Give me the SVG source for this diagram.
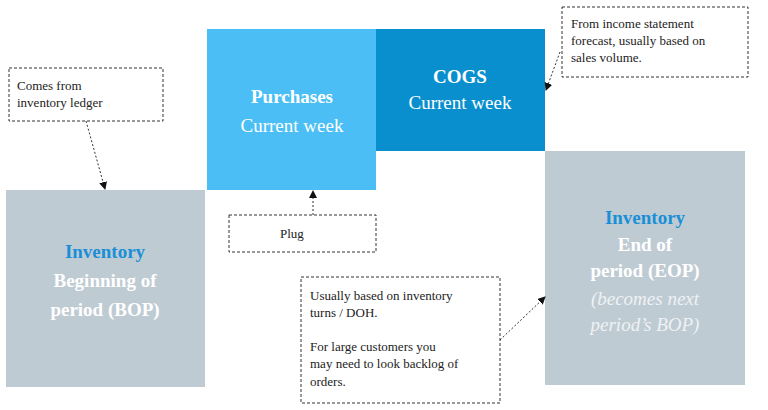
<svg xmlns="http://www.w3.org/2000/svg" width="768" height="410" viewBox="0 0 768 410">
<style>
.note{fill:#fff;stroke:#333;stroke-width:1;stroke-dasharray:3,2}
.nt{font-family:"Liberation Serif","DejaVu Serif",serif;font-size:13px;fill:#222}
.bt{font-family:"Liberation Serif","DejaVu Serif",serif;font-size:19px;font-weight:bold;fill:#fff;text-anchor:middle}
.rt{font-family:"Liberation Serif","DejaVu Serif",serif;font-size:19px;fill:#fff;text-anchor:middle}
.blue{fill:#1A8FD6}
.it{font-style:italic;font-weight:normal;fill:#eef2f5}
.con{stroke:#333;stroke-width:1;stroke-dasharray:2,2;fill:none;marker-end:url(#ah)}
</style>
<defs><marker id="ah" markerWidth="8" markerHeight="8" refX="7" refY="4" orient="auto" markerUnits="userSpaceOnUse"><path d="M0,0L8,4L0,8z" fill="#111"/></marker></defs>
<rect width="768" height="410" fill="#fff"/>
<g id="purchases"><rect x="207" y="29" width="169" height="161" fill="#4BBFF5"/>
<text class="bt" x="292" y="103">Purchases</text><text class="rt" x="292" y="132">Current week</text></g>
<g id="cogs"><rect x="376" y="29" width="169" height="122" fill="#0A8FCE"/>
<text class="bt" x="460" y="83">COGS</text><text class="rt" x="460" y="109">Current week</text></g>
<g id="bop"><rect x="6" y="190" width="199" height="197" fill="#BFCBD3"/>
<text class="bt blue" x="105" y="258">Inventory</text><text class="bt" x="105" y="287">Beginning of</text><text class="bt" x="105" y="316">period (BOP)</text></g>
<g id="eop"><rect x="545" y="151" width="200" height="234" fill="#BFCBD3"/>
<text class="bt blue" x="645" y="224">Inventory</text><text class="bt" x="645" y="251">End of</text><text class="bt" x="645" y="277">period (EOP)</text>
<text class="bt it" x="645" y="305">(becomes next</text><text class="bt it" x="645" y="331">period’s BOP)</text></g>
<g id="note-ledger"><rect class="note" x="9" y="68" width="154" height="53"/>
<text class="nt" x="17" y="90">Comes from</text><text class="nt" x="17" y="107">inventory ledger</text></g>
<g id="note-income"><rect class="note" x="562" y="7" width="186" height="70"/>
<text class="nt" x="571" y="28">From income statement</text><text class="nt" x="571" y="45">forecast, usually based on</text><text class="nt" x="571" y="62">sales volume.</text></g>
<g id="note-plug"><rect class="note" x="229" y="215" width="147" height="37"/>
<text class="nt" x="280" y="238">Plug</text></g>
<g id="note-doh"><rect class="note" x="301" y="277" width="199" height="126"/>
<text class="nt" x="310" y="300">Usually based on inventory</text><text class="nt" x="310" y="317">turns / DOH.</text>
<text class="nt" x="310" y="351">For large customers you</text><text class="nt" x="310" y="368">may need to look backlog of</text><text class="nt" x="310" y="386">orders.</text></g>
<g id="connectors">
<path class="con" d="M86,121L105,189"/>
<path class="con" d="M313,215L313,191"/>
<path class="con" d="M500,340L545,297"/>
<path class="con" d="M560,52L546,90"/>
</g>
</svg>
